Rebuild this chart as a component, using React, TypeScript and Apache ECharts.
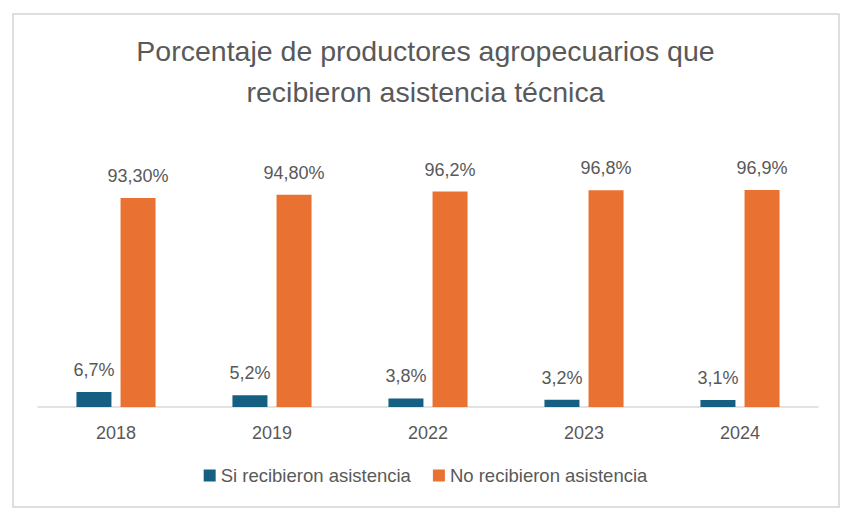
import React, { useEffect, useRef } from "react";
import * as echarts from "echarts";

const years = ["2018", "2019", "2022", "2023", "2024"];
const siRecibieron = [6.7, 5.2, 3.8, 3.2, 3.1];
const noRecibieron = [93.3, 94.8, 96.2, 96.8, 96.9];
const siLabels = ["6,7%", "5,2%", "3,8%", "3,2%", "3,1%"];
const noLabels = ["93,30%", "94,80%", "96,2%", "96,8%", "96,9%"];

const TEXT = "#595959";
const FONT = "'Liberation Sans', Arial, sans-serif";

export default function App() {
  const ref = useRef<HTMLDivElement>(null);

  useEffect(() => {
    if (!ref.current) return;
    const chart = echarts.init(ref.current, undefined, { renderer: "svg" });
    chart.setOption({
      animation: false,
      backgroundColor: "#ffffff",
      graphic: [
        {
          type: "rect",
          shape: { x: 13, y: 14, width: 826, height: 493 },
          style: { fill: "#ffffff", stroke: "#d4d4d4", lineWidth: 1.5 },
          z: -10,
        },
      ],
      title: {
        text: "Porcentaje de productores agropecuarios que\nrecibieron asistencia técnica",
        left: "center",
        top: 25,
        textStyle: {
          color: TEXT,
          fontFamily: FONT,
          fontWeight: "normal",
          fontSize: 28.5,
          lineHeight: 41,
        },
      },
      legend: {
        bottom: 34,
        left: "center",
        itemWidth: 12,
        itemHeight: 12,
        itemGap: 22,
        icon: "rect",
        textStyle: { color: TEXT, fontFamily: FONT, fontSize: 18.5 },
        data: ["Si recibieron asistencia", "No recibieron asistencia"],
      },
      grid: { left: 38, right: 33, top: 183, bottom: 117, containLabel: false },
      xAxis: {
        type: "category",
        data: years,
        axisLine: { lineStyle: { color: "#d9d9d9", width: 1.5 } },
        axisTick: { show: false },
        axisLabel: { color: TEXT, fontSize: 18, fontFamily: FONT, margin: 17 },
      },
      yAxis: {
        type: "value",
        min: 0,
        max: 100,
        show: false,
        splitLine: { show: false },
      },
      series: [
        {
          name: "Si recibieron asistencia",
          type: "bar",
          data: siRecibieron,
          barWidth: 35,
          barGap: "26%",
          itemStyle: { color: "#156082" },
          label: {
            show: true,
            position: "top",
            distance: 13,
            color: TEXT,
            fontSize: 18,
            fontFamily: FONT,
            formatter: (p: any) => siLabels[p.dataIndex],
          },
        },
        {
          name: "No recibieron asistencia",
          type: "bar",
          data: noRecibieron,
          barWidth: 35,
          itemStyle: { color: "#E97132" },
          label: {
            show: true,
            position: "top",
            distance: 13,
            color: TEXT,
            fontSize: 18,
            fontFamily: FONT,
            formatter: (p: any) => noLabels[p.dataIndex],
          },
        },
      ],
    });
    return () => chart.dispose();
  }, []);

  return (
    <div
      ref={ref}
      style={{ position: "absolute", left: 0, top: 0, width: 851, height: 524 }}
    />
  );
}
